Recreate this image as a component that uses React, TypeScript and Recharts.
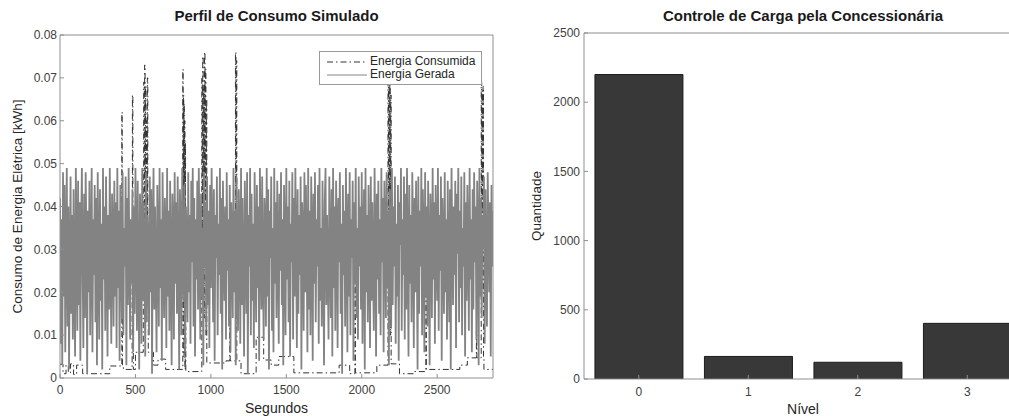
import React from "react";
import { LineChart, Line, XAxis, YAxis, BarChart, Bar, Legend } from "recharts";

const FONT = '"Liberation Sans", Arial, Helvetica, sans-serif';

// Energia gerada, one sample every 5 s, in Wh
const passoGerada = 5;
const energiaGerada = [
  42, 8, 37, 3, 48, 19, 45, 6, 31, 49, 12, 40, 2, 27, 47, 15, 38, 9, 44, 22, 5, 49, 30, 11, 46,
  17, 41, 4, 35, 49, 25, 7, 43, 14, 48, 33, 1, 39, 20, 46, 10, 29, 49, 6, 37, 24, 45, 13, 42, 3,
  48, 28, 9, 44, 18, 36, 2, 49, 23, 40, 11, 47, 31, 5, 38, 16, 49, 26, 8, 43, 34, 12, 46, 19, 41,
  7, 49, 21, 39, 4, 45, 30, 14, 48, 10, 35, 26, 47, 3, 42, 17, 49, 28, 9, 37, 22, 44, 6, 40, 15,
  49, 32, 11, 46, 24, 2, 43, 36, 8, 49, 18, 41, 27, 5, 48, 13, 38, 29, 10, 47, 20, 44, 1, 34, 49,
  16, 40, 25, 6, 45, 31, 12, 49, 21, 37, 4, 48, 27, 14, 42, 33, 7, 49, 19, 39, 11, 46, 26, 3, 43,
  35, 9, 48, 22, 41, 15, 47, 29, 2, 44, 36, 10, 49, 24, 18, 45, 6, 40, 31, 13, 48, 20, 38, 8, 46,
  27, 49, 12, 42, 5, 37, 23, 46, 16, 49, 30, 9, 43, 19, 35, 3, 48, 26, 41, 11, 47, 17, 39, 7, 45,
  21, 49, 32, 13, 44, 4, 38, 28, 47, 10, 36, 24, 49, 15, 42, 2, 46, 30, 18, 40, 9, 48, 25, 37, 12,
  45, 6, 41, 33, 14, 49, 20, 39, 3, 47, 27, 11, 44, 35, 8, 49, 17, 42, 23, 5, 46, 31, 15, 48, 1,
  38, 26, 49, 10, 43, 18, 36, 7, 48, 29, 13, 45, 21, 40, 4, 49, 33, 16, 47, 24, 9, 42, 37, 12, 49,
  19, 44, 2, 39, 28, 47, 11, 35, 6, 49, 22, 41, 14, 46, 30, 8, 43, 25, 48, 17, 37, 3, 45, 32, 10,
  49, 23, 40, 13, 46, 5, 36, 27, 48, 9, 42, 19, 49, 31, 7, 44, 15, 38, 24, 47, 2, 41, 34, 11, 48,
  20, 45, 29, 6, 49, 16, 39, 10, 47, 33, 4, 43, 22, 48, 13, 37, 26, 45, 8, 49, 18, 35, 12, 46, 28,
  3, 41, 49, 17, 38, 25, 9, 47, 30, 14, 44, 5, 49, 21, 40, 11, 46, 34, 7, 42, 27, 48, 15, 36, 1,
  45, 24, 39, 12, 49, 31, 6, 43, 19, 48, 10, 37, 28, 46, 4, 41, 22, 49, 14, 35, 9, 47, 26, 40, 16,
  48, 8, 33, 44, 2, 49, 20, 38, 13, 45, 29, 7, 47, 18, 41, 25, 11, 49, 32, 5, 43, 23, 46, 15, 37,
  10, 49, 27, 42, 6, 46, 35, 14, 48, 21, 39, 3, 44, 30, 12, 49, 17, 40, 26, 47, 8, 36, 19, 45, 4,
  41, 31, 49, 11, 37, 24, 47, 9, 43, 16, 49, 28, 5, 45, 22, 38, 13, 48, 34, 7, 42, 20, 46, 29, 2,
  47, 15, 39, 26, 49, 10, 44, 33, 6, 48, 19, 40, 12, 46, 27, 3, 43, 36, 14, 49, 23, 41, 8, 45, 30,
  18, 49, 11, 38, 25, 47, 4, 42, 31, 15, 48, 20, 37, 9, 46, 28, 13, 44, 2, 49, 34, 17, 40, 24, 46,
  7, 43, 29, 49, 13, 39, 21, 47, 10, 35, 26, 48, 5, 41, 18, 45, 32, 11, 49, 23, 37, 6, 44, 16, 48,
  27, 40, 9, 46, 35, 3, 49, 19, 42, 14, 38, 30, 47, 8, 44, 24, 12, 48, 33, 20, 41, 5, 45, 26, 39,
];

// Energia consumida: change points (s) and level held after each one (Wh)
const consumidaTempo = [
  0, 20, 40, 55, 70, 90, 110, 150, 330, 410, 412, 414, 420, 478, 480, 483, 486, 500,
  550, 552, 555, 558, 561, 564, 567, 570, 573, 576, 579, 582, 585, 620, 650, 700,
  812, 814, 816, 818, 820, 822, 824, 826, 828, 830, 832, 834, 930, 940, 943, 946,
  949, 952, 955, 958, 961, 964, 967, 970, 973, 1100, 1125, 1128, 1163, 1166, 1169,
  1172, 1200, 1300, 1350, 1400, 1450, 1550, 1850, 1920, 1955, 1958, 2100, 2174,
  2177, 2180, 2183, 2186, 2189, 2192, 2195, 2250, 2350, 2425, 2428, 2650, 2700,
  2760, 2763, 2792, 2795, 2798, 2801, 2804, 2807, 2810, 2870,
];
const consumidaValor = [
  3.2, 1.0, 3.0, 1.2, 3.3, 0.8, 3.0, 1.0, 2.8, 62, 20, 2.8, 2.0, 27, 66, 10, 2.0, 6.0,
  6.0, 40, 69, 30, 73, 45, 68, 16, 60, 35, 70, 20, 6.0, 3.0, 4.4, 2.0,
  2.0, 72, 25, 66, 5, 64, 30, 60, 2, 55, 12, 1.5, 1.5, 70, 20, 75,
  40, 68, 14, 76, 35, 72, 10, 65, 3.5, 4.0, 15, 4.0, 76, 30, 74,
  4.0, 1.0, 9.5, 4.2, 3.0, 5.0, 1.2, 3.0, 1.0, 22, 1.2, 3.0, 69,
  30, 68, 25, 69, 10, 66, 3.3, 1.0, 1.5, 21, 2.0, 3.0, 4.7,
  11, 4.7, 69, 20, 67, 35, 68, 5, 2.0, 2.0,
];

const tempoTicks = [0, 500, 1000, 1500, 2000, 2500];
const energiaTicks = [0, 0.01, 0.02, 0.03, 0.04, 0.05, 0.06, 0.07, 0.08];

const niveis = ["0", "1", "2", "3"];
const quantidades = [2200, 163, 121, 402];
const quantidadeTicks = [0, 500, 1000, 1500, 2000, 2500];

const geradaData = energiaGerada.map((v, i) => ({ t: i * passoGerada, v: v / 1000 }));
const consumidaData = consumidaTempo.map((t, i) => ({ t, v: consumidaValor[i] / 1000 }));
const nivelData = niveis.map((n, i) => ({ nivel: n, q: quantidades[i] }));

const AXIS = "#8f8f8f";
const TICK = { fill: "#404040", fontSize: 12, fontFamily: FONT };

const legendItems = [
  { label: "Energia Consumida", color: "#333333", dash: "6 3 1.5 3" },
  { label: "Energia Gerada", color: "#858585", dash: undefined },
];

function LegendBox() {
  return (
    <div
      style={{
        border: "1px solid #9a9a9a",
        background: "#fff",
        padding: "3px 6px 3px 7px",
        fontFamily: FONT,
        fontSize: 12,
        color: "#262626",
        lineHeight: "13px",
      }}
    >
      {legendItems.map((it) => (
        <div key={it.label} style={{ display: "flex", alignItems: "center" }}>
          <svg width={40} height={10} style={{ marginRight: 3 }}>
            <line x1={0} y1={5} x2={40} y2={5} stroke={it.color} strokeWidth={1} strokeDasharray={it.dash} />
          </svg>
          <span>{it.label}</span>
        </div>
      ))}
    </div>
  );
}

function VerticalTitle(props: any) {
  const { viewBox, text, px } = props;
  const cy = viewBox.y + viewBox.height / 2;
  return (
    <text
      x={px}
      y={cy}
      transform={`rotate(-90 ${px} ${cy})`}
      textAnchor="middle"
      dominantBaseline="central"
      fill="#262626"
      fontSize={13.5}
      fontFamily={FONT}
    >
      {text}
    </text>
  );
}

const fmtEnergia = (v: number) => (v === 0 ? "0" : v.toFixed(2));

const titleStyle = {
  position: "absolute" as const,
  top: 7,
  textAlign: "center" as const,
  fontWeight: "bold" as const,
  fontSize: 15,
  color: "#1a1a1a",
};

export default function App() {
  return (
    <div
      style={{
        position: "fixed",
        left: 0,
        top: 0,
        width: 1009,
        height: 416,
        overflow: "hidden",
        background: "#fff",
        fontFamily: FONT,
      }}
    >
      <div style={{ position: "absolute", left: 0, top: 0 }}>
        <LineChart width={500} height={416} margin={{ top: 34, right: 6, bottom: 0, left: 0 }}>
          <XAxis
            dataKey="t"
            type="number"
            domain={[0, 2870]}
            ticks={tempoTicks}
            allowDataOverflow
            height={38}
            stroke={AXIS}
            tickSize={-4}
            tickMargin={11}
            tick={TICK}
            label={{ value: "Segundos", position: "insideBottom", offset: 3, fill: "#262626", fontSize: 14, fontFamily: FONT }}
          />
          <XAxis
            xAxisId="top"
            orientation="top"
            dataKey="t"
            type="number"
            domain={[0, 2870]}
            ticks={tempoTicks}
            allowDataOverflow
            height={1}
            stroke={AXIS}
            tickSize={-4}
            tick={false}
          />
          <YAxis
            type="number"
            domain={[0, 0.08]}
            ticks={energiaTicks}
            allowDataOverflow
            width={60}
            stroke={AXIS}
            tickSize={-4}
            tickMargin={7}
            tick={TICK}
            tickFormatter={fmtEnergia}
            label={<VerticalTitle text="Consumo de Energia Elétrica [kWh]" px={17} />}
          />
          <YAxis
            yAxisId="right"
            orientation="right"
            type="number"
            domain={[0, 0.08]}
            ticks={energiaTicks}
            allowDataOverflow
            width={1}
            stroke={AXIS}
            tickSize={-4}
            tick={false}
          />
          <Line
            data={consumidaData}
            dataKey="v"
            type="stepAfter"
            stroke="#333333"
            strokeWidth={1}
            strokeDasharray="6 3 1.5 3"
            dot={false}
            activeDot={false}
            isAnimationActive={false}
          />
          <Line
            data={geradaData}
            dataKey="v"
            type="linear"
            stroke="#838383"
            strokeWidth={1.8}
            dot={false}
            activeDot={false}
            isAnimationActive={false}
          />
          <Legend
            layout="vertical"
            align="center"
            verticalAlign="middle"
            content={<LegendBox />}
            wrapperStyle={{ position: "absolute", top: 51, left: 319, width: "auto", height: "auto" }}
          />
        </LineChart>
      </div>

      <div style={{ position: "absolute", left: 500, top: 0 }}>
        <BarChart
          width={530}
          height={416}
          data={nivelData}
          margin={{ top: 32, right: 7, bottom: 0, left: 0 }}
          barCategoryGap="10%"
        >
          <XAxis
            dataKey="nivel"
            height={37}
            stroke={AXIS}
            tickSize={-4}
            tickMargin={12}
            tick={TICK}
            label={{ value: "Nível", position: "insideBottom", offset: 2, fill: "#262626", fontSize: 14, fontFamily: FONT }}
          />
          <XAxis xAxisId="top" orientation="top" dataKey="nivel" height={1} stroke={AXIS} tickSize={-4} tick={false} />
          <YAxis
            type="number"
            domain={[0, 2500]}
            ticks={quantidadeTicks}
            allowDataOverflow
            width={84}
            stroke={AXIS}
            tickSize={-4}
            tickMargin={8}
            tick={TICK}
            label={<VerticalTitle text="Quantidade" px={36} />}
          />
          <YAxis
            yAxisId="right"
            orientation="right"
            type="number"
            domain={[0, 2500]}
            ticks={quantidadeTicks}
            width={1}
            stroke={AXIS}
            tickSize={-4}
            tick={false}
          />
          <Bar dataKey="q" fill="#383838" stroke="#1c1c1c" strokeWidth={1} isAnimationActive={false} />
        </BarChart>
      </div>

      <div style={{ ...titleStyle, left: 60, width: 433 }}>Perfil de Consumo Simulado</div>
      <div style={{ ...titleStyle, left: 584, width: 438 }}>Controle de Carga pela Concessionária</div>
    </div>
  );
}
